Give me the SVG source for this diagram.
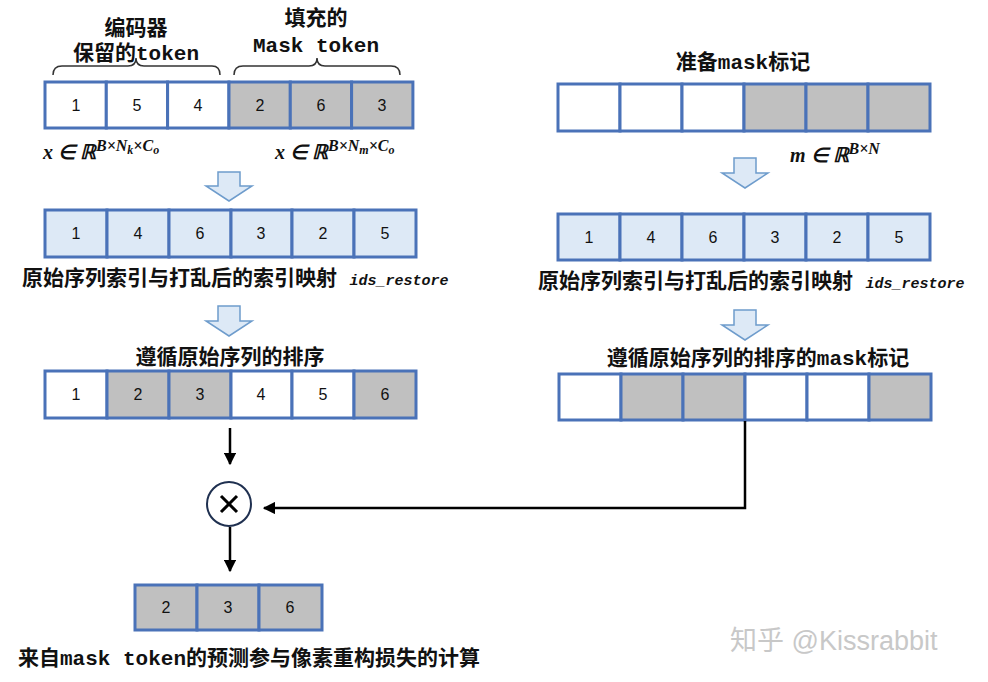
<svg xmlns="http://www.w3.org/2000/svg" width="988" height="682" viewBox="0 0 988 682">
<defs>
<style>
.c{stroke:#4a72b8;stroke-width:3}
.w{fill:#fff}.g{fill:#c0c0c0}.b{fill:#dde9f6}
.n{font-family:"Liberation Sans",Arial,sans-serif;font-size:16px;text-anchor:middle;fill:#111}
.t{font-family:"Liberation Mono","Noto Sans CJK SC",monospace;font-size:21px;fill:#111;font-weight:bold}
.m{font-family:"Liberation Serif",serif;font-style:italic;font-weight:bold;font-size:20px;fill:#111}
.id{font-family:"Liberation Mono",monospace;font-style:italic;font-weight:bold;font-size:15px;fill:#111}
.ba{fill:#dde9f6;stroke:#6e9ccc;stroke-width:1.5}
.k{stroke:#000;stroke-width:2.5;fill:none}
.br{stroke:#333;stroke-width:1.5;fill:none}
</style>
<marker id="ah" viewBox="0 0 10 10" refX="9" refY="5" markerWidth="5" markerHeight="5" orient="auto"><path d="M0,0L10,5L0,10z" fill="#000"/></marker>
</defs>
<rect width="988" height="682" fill="#fff"/>
<g id="labels">
<text class="t" x="136" y="35" text-anchor="middle" font-size="19">编码器</text>
<text class="t" x="136" y="60" text-anchor="middle" font-size="19">保留的token</text>
<text class="t" x="316" y="25" text-anchor="middle" font-size="19">填充的</text>
<text class="t" x="316" y="52" text-anchor="middle" font-size="19">Mask token</text>
<path class="br" d="M53,75 Q53,66 62,66 L128,66 Q136,66 136,58 Q136,66 144,66 L212,66 Q220,66 220,75"/>
<path class="br" d="M234,75 Q234,66 243,66 L309,66 Q317,66 317,58 Q317,66 325,66 L391,66 Q400,66 400,75"/>
<text class="m" x="43" y="159">x ∈ ℝ<tspan font-size="16" dy="-8">B×N</tspan><tspan font-size="12" dy="3">k</tspan><tspan font-size="16" dy="-3">×C</tspan><tspan font-size="12" dy="3">o</tspan></text>
<text class="m" x="275" y="159">x ∈ ℝ<tspan font-size="16" dy="-8">B×N</tspan><tspan font-size="12" dy="3">m</tspan><tspan font-size="16" dy="-3">×C</tspan><tspan font-size="12" dy="3">o</tspan></text>
<text class="t" x="743" y="69" text-anchor="middle" font-size="19">准备mask标记</text>
<text class="m" x="790" y="162">m ∈ ℝ<tspan font-size="16" dy="-8">B×N</tspan></text>
<text class="t" x="22" y="285">原始序列索引与打乱后的索引映射 <tspan class="id">ids_restore</tspan></text>
<text class="t" x="538" y="288">原始序列索引与打乱后的索引映射 <tspan class="id">ids_restore</tspan></text>
<text class="t" x="230" y="364" text-anchor="middle">遵循原始序列的排序</text>
<text class="t" x="758" y="365" text-anchor="middle">遵循原始序列的排序的mask标记</text>
<text class="t" x="18" y="665">来自mask token的预测参与像素重构损失的计算</text>
<text x="730" y="650" font-family="Liberation Sans,Noto Sans CJK SC,sans-serif" font-size="27" fill="#c8c8c8">知乎 @Kissrabbit</text>
</g>
<g id="row1L">
<rect class="c w" x="45" y="82" width="61.3" height="46"/><rect class="c w" x="106.3" y="82" width="61.3" height="46"/><rect class="c w" x="167.6" y="82" width="61.3" height="46"/>
<rect class="c g" x="229" y="82" width="61.3" height="46"/><rect class="c g" x="290.3" y="82" width="61.3" height="46"/><rect class="c g" x="351.6" y="82" width="61.3" height="46"/>
<text class="n" x="76" y="111">1</text><text class="n" x="137" y="111">5</text><text class="n" x="198" y="111">4</text><text class="n" x="260" y="111">2</text><text class="n" x="321" y="111">6</text><text class="n" x="382" y="111">3</text>
</g>
<g id="row1R">
<rect class="c w" x="558" y="84" width="62" height="47"/><rect class="c w" x="620" y="84" width="62" height="47"/><rect class="c w" x="682" y="84" width="62" height="47"/>
<rect class="c g" x="744" y="84" width="62" height="47"/><rect class="c g" x="806" y="84" width="62" height="47"/><rect class="c g" x="868" y="84" width="62" height="47"/>
</g>
<g id="row2L">
<rect class="c b" x="45" y="210" width="62" height="47"/><rect class="c b" x="107" y="210" width="62" height="47"/><rect class="c b" x="169" y="210" width="62" height="47"/><rect class="c b" x="231" y="210" width="61" height="47"/><rect class="c b" x="292" y="210" width="62" height="47"/><rect class="c b" x="354" y="210" width="62" height="47"/>
<text class="n" x="76" y="239">1</text><text class="n" x="138" y="239">4</text><text class="n" x="200" y="239">6</text><text class="n" x="261" y="239">3</text><text class="n" x="323" y="239">2</text><text class="n" x="385" y="239">5</text>
</g>
<g id="row2R">
<rect class="c b" x="558" y="214" width="62" height="46"/><rect class="c b" x="620" y="214" width="62" height="46"/><rect class="c b" x="682" y="214" width="62" height="46"/><rect class="c b" x="744" y="214" width="62" height="46"/><rect class="c b" x="806" y="214" width="62" height="46"/><rect class="c b" x="868" y="214" width="62" height="46"/>
<text class="n" x="589" y="243">1</text><text class="n" x="651" y="243">4</text><text class="n" x="713" y="243">6</text><text class="n" x="775" y="243">3</text><text class="n" x="837" y="243">2</text><text class="n" x="899" y="243">5</text>
</g>
<g id="row3L">
<rect class="c w" x="45" y="371" width="62" height="47"/><rect class="c g" x="107" y="371" width="62" height="47"/><rect class="c g" x="169" y="371" width="62" height="47"/><rect class="c w" x="231" y="371" width="61" height="47"/><rect class="c w" x="292" y="371" width="62" height="47"/><rect class="c g" x="354" y="371" width="62" height="47"/>
<text class="n" x="76" y="400">1</text><text class="n" x="138" y="400">2</text><text class="n" x="200" y="400">3</text><text class="n" x="261" y="400">4</text><text class="n" x="323" y="400">5</text><text class="n" x="385" y="400">6</text>
</g>
<g id="row3R">
<rect class="c w" x="559" y="374" width="62" height="46"/><rect class="c g" x="621" y="374" width="62" height="46"/><rect class="c g" x="683" y="374" width="62" height="46"/><rect class="c w" x="745" y="374" width="62" height="46"/><rect class="c w" x="807" y="374" width="62" height="46"/><rect class="c g" x="869" y="374" width="62" height="46"/>
</g>
<g id="result">
<rect class="c g" x="135" y="585" width="62" height="45"/><rect class="c g" x="197" y="585" width="62" height="45"/><rect class="c g" x="259" y="585" width="63" height="45"/>
<text class="n" x="166" y="613">2</text><text class="n" x="228" y="613">3</text><text class="n" x="290" y="613">6</text>
</g>
<g id="multiply">
<circle cx="229" cy="504" r="22" fill="#fff" stroke="#1f3050" stroke-width="2"/>
<path d="M221,496L237,512M237,496L221,512" stroke="#000" stroke-width="3"/>
</g>
<g id="connectors">
<path class="ba" d="M218,172H240V186H252L229,201L206,186H218Z"/>
<path class="ba" d="M734,158H756V173H768L745,188L722,173H734Z"/>
<path class="ba" d="M218,306H240V321H252L229,336L206,321H218Z"/>
<path class="ba" d="M734,310H756V325H768L745,340L722,325H734Z"/>
<path class="k" d="M230,428V464" marker-end="url(#ah)"/>
<path class="k" d="M230,527V571" marker-end="url(#ah)"/>
<path class="k" d="M745,421V508H264" marker-end="url(#ah)"/>
</g>
</svg>
